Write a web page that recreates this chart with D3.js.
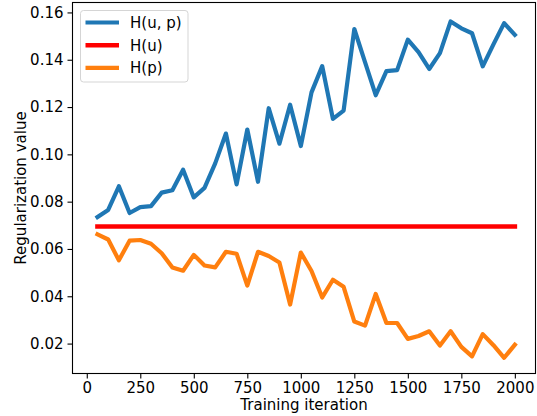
<!DOCTYPE html>
<html>
<head>
<meta charset="utf-8">
<script src="https://cdn.jsdelivr.net/npm/d3@7"></script>
<style>
  html, body { margin: 0; padding: 0; background: #fff; }
  svg { display: block; font-family: "DejaVu Sans", sans-serif; }
</style>
</head>
<body>
<div id="chart"></div>
<script>
var iterations = [50, 100, 150, 200, 250, 300, 350, 400, 450, 500,
    550, 600, 650, 700, 750, 800, 850, 900, 950, 1000,
    1050, 1100, 1150, 1200, 1250, 1300, 1350, 1400, 1450, 1500,
    1550, 1600, 1650, 1700, 1750, 1800, 1850, 1900, 1950, 2000];

var hUP = [0.0735, 0.0765, 0.0865, 0.0752, 0.0777, 0.0781, 0.0838, 0.0848, 0.0935, 0.0818,
    0.0858, 0.0962, 0.1088, 0.0873, 0.1105, 0.0884, 0.1195, 0.1045, 0.1210, 0.1035,
    0.1262, 0.1373, 0.1150, 0.1185, 0.1530, 0.1390, 0.1250, 0.1352, 0.1356, 0.1485,
    0.1432, 0.1361, 0.1428, 0.1562, 0.1533, 0.1512, 0.1372, 0.1465, 0.1555, 0.1505];

var hU = [0.0695, 0.0695, 0.0695, 0.0695, 0.0695, 0.0695, 0.0695, 0.0695, 0.0695, 0.0695,
    0.0695, 0.0695, 0.0695, 0.0695, 0.0695, 0.0695, 0.0695, 0.0695, 0.0695, 0.0695,
    0.0695, 0.0695, 0.0695, 0.0695, 0.0695, 0.0695, 0.0695, 0.0695, 0.0695, 0.0695,
    0.0695, 0.0695, 0.0695, 0.0695, 0.0695, 0.0695, 0.0695, 0.0695, 0.0695, 0.0695];

var hP = [0.0662, 0.0640, 0.0552, 0.0635, 0.0638, 0.0622, 0.0582, 0.0522, 0.0508, 0.0575,
    0.0530, 0.0522, 0.0588, 0.0580, 0.0445, 0.0588, 0.0570, 0.0543, 0.0365, 0.0585,
    0.0507, 0.0395, 0.0470, 0.0440, 0.0293, 0.0276, 0.0410, 0.0287, 0.0287, 0.0220,
    0.0232, 0.0252, 0.0192, 0.0252, 0.0186, 0.0146, 0.0240, 0.0193, 0.0140, 0.0195];

var xTicks = [0, 250, 500, 750, 1000, 1250, 1500, 1750, 2000];
var yTicks = [0.02, 0.04, 0.06, 0.08, 0.10, 0.12, 0.14, 0.16];

var seriesNames = ["H(u, p)", "H(u)", "H(p)"];
var seriesColors = ["#1f77b4", "#ff0000", "#ff7f0e"];

function drawChart() {
    var W = 537, H = 416;
    var margin = { top: 2.5, right: 1.5, bottom: 42.5, left: 72.5 };
    var width = W - margin.left - margin.right;
    var height = H - margin.top - margin.bottom;
    var fontSize = "15px";

    var x = d3.scaleLinear()
        .domain([-66.7, 2096.5])
        .range([0, width]);

    var y = d3.scaleLinear()
        .domain([0.00735, 0.1642])
        .range([height, 0]);

    var svg = d3.select("#chart")
        .append("svg")
        .attr("width", W)
        .attr("height", H)
        .append("g")
        .attr("transform", "translate(" + margin.left + "," + margin.top + ")");

    var xAxis = d3.axisBottom(x).tickValues(xTicks).tickSize(5).tickPadding(4)
        .tickFormat(d3.format("d"));
    var yAxis = d3.axisLeft(y).tickValues(yTicks).tickSize(5).tickPadding(4)
        .tickFormat(d3.format(".2f"));

    var gx = svg.append("g")
        .attr("transform", "translate(0," + height + ")")
        .call(xAxis);
    var gy = svg.append("g")
        .call(yAxis);

    [gx, gy].forEach(function (g) {
        g.select(".domain").remove();
        g.selectAll("line").attr("stroke", "#000").attr("stroke-width", 1.1);
        g.selectAll("text")
            .attr("fill", "#000")
            .style("font-family", "DejaVu Sans")
            .style("font-size", fontSize);
    });

    // lines
    var allSeries = [hUP, hU, hP];
    var line = d3.line()
        .x(function (d, i) { return x(iterations[i]); })
        .y(function (d) { return y(d); });

    allSeries.forEach(function (values, k) {
        svg.append("path")
            .datum(values)
            .attr("fill", "none")
            .attr("stroke", seriesColors[k])
            .attr("stroke-width", k == 1 ? 4.6 : 4.2)
            .attr("stroke-linejoin", "round")
            .attr("stroke-linecap", "square")
            .attr("d", line);
    });

    // frame
    svg.append("rect")
        .attr("x", 0)
        .attr("y", 0)
        .attr("width", width)
        .attr("height", height)
        .attr("fill", "none")
        .attr("stroke", "#000")
        .attr("stroke-width", 1.1);

    // legend
    var legend = svg.append("g")
        .attr("transform", "translate(8,8)");
    legend.append("rect")
        .attr("width", 107.5)
        .attr("height", 71.5)
        .attr("rx", 3)
        .attr("fill", "#fff")
        .attr("fill-opacity", 0.8)
        .attr("stroke", "#d5d5d5")
        .attr("stroke-width", 1);

    seriesNames.forEach(function (name, i) {
        var ly = 12 + i * 22.7;
        legend.append("line")
            .attr("x1", 5)
            .attr("x2", 38.5)
            .attr("y1", ly)
            .attr("y2", ly)
            .attr("stroke", seriesColors[i])
            .attr("stroke-width", i == 1 ? 4.6 : 4.2);
        legend.append("text")
            .attr("x", 49.5)
            .attr("y", ly)
            .attr("dy", "0.36em")
            .style("font-size", fontSize)
            .text(name);
    });

    svg.append("text")
        .attr("x", width / 2)
        .attr("y", height + 36)
        .attr("text-anchor", "middle")
        .style("font-size", fontSize)
        .text("Training iteration");

    svg.append("text")
        .attr("transform", "rotate(-90)")
        .attr("x", -height / 2)
        .attr("y", -47)
        .attr("text-anchor", "middle")
        .style("font-size", fontSize)
        .text("Regularization value");
}

drawChart();
</script>
</body>
</html>
